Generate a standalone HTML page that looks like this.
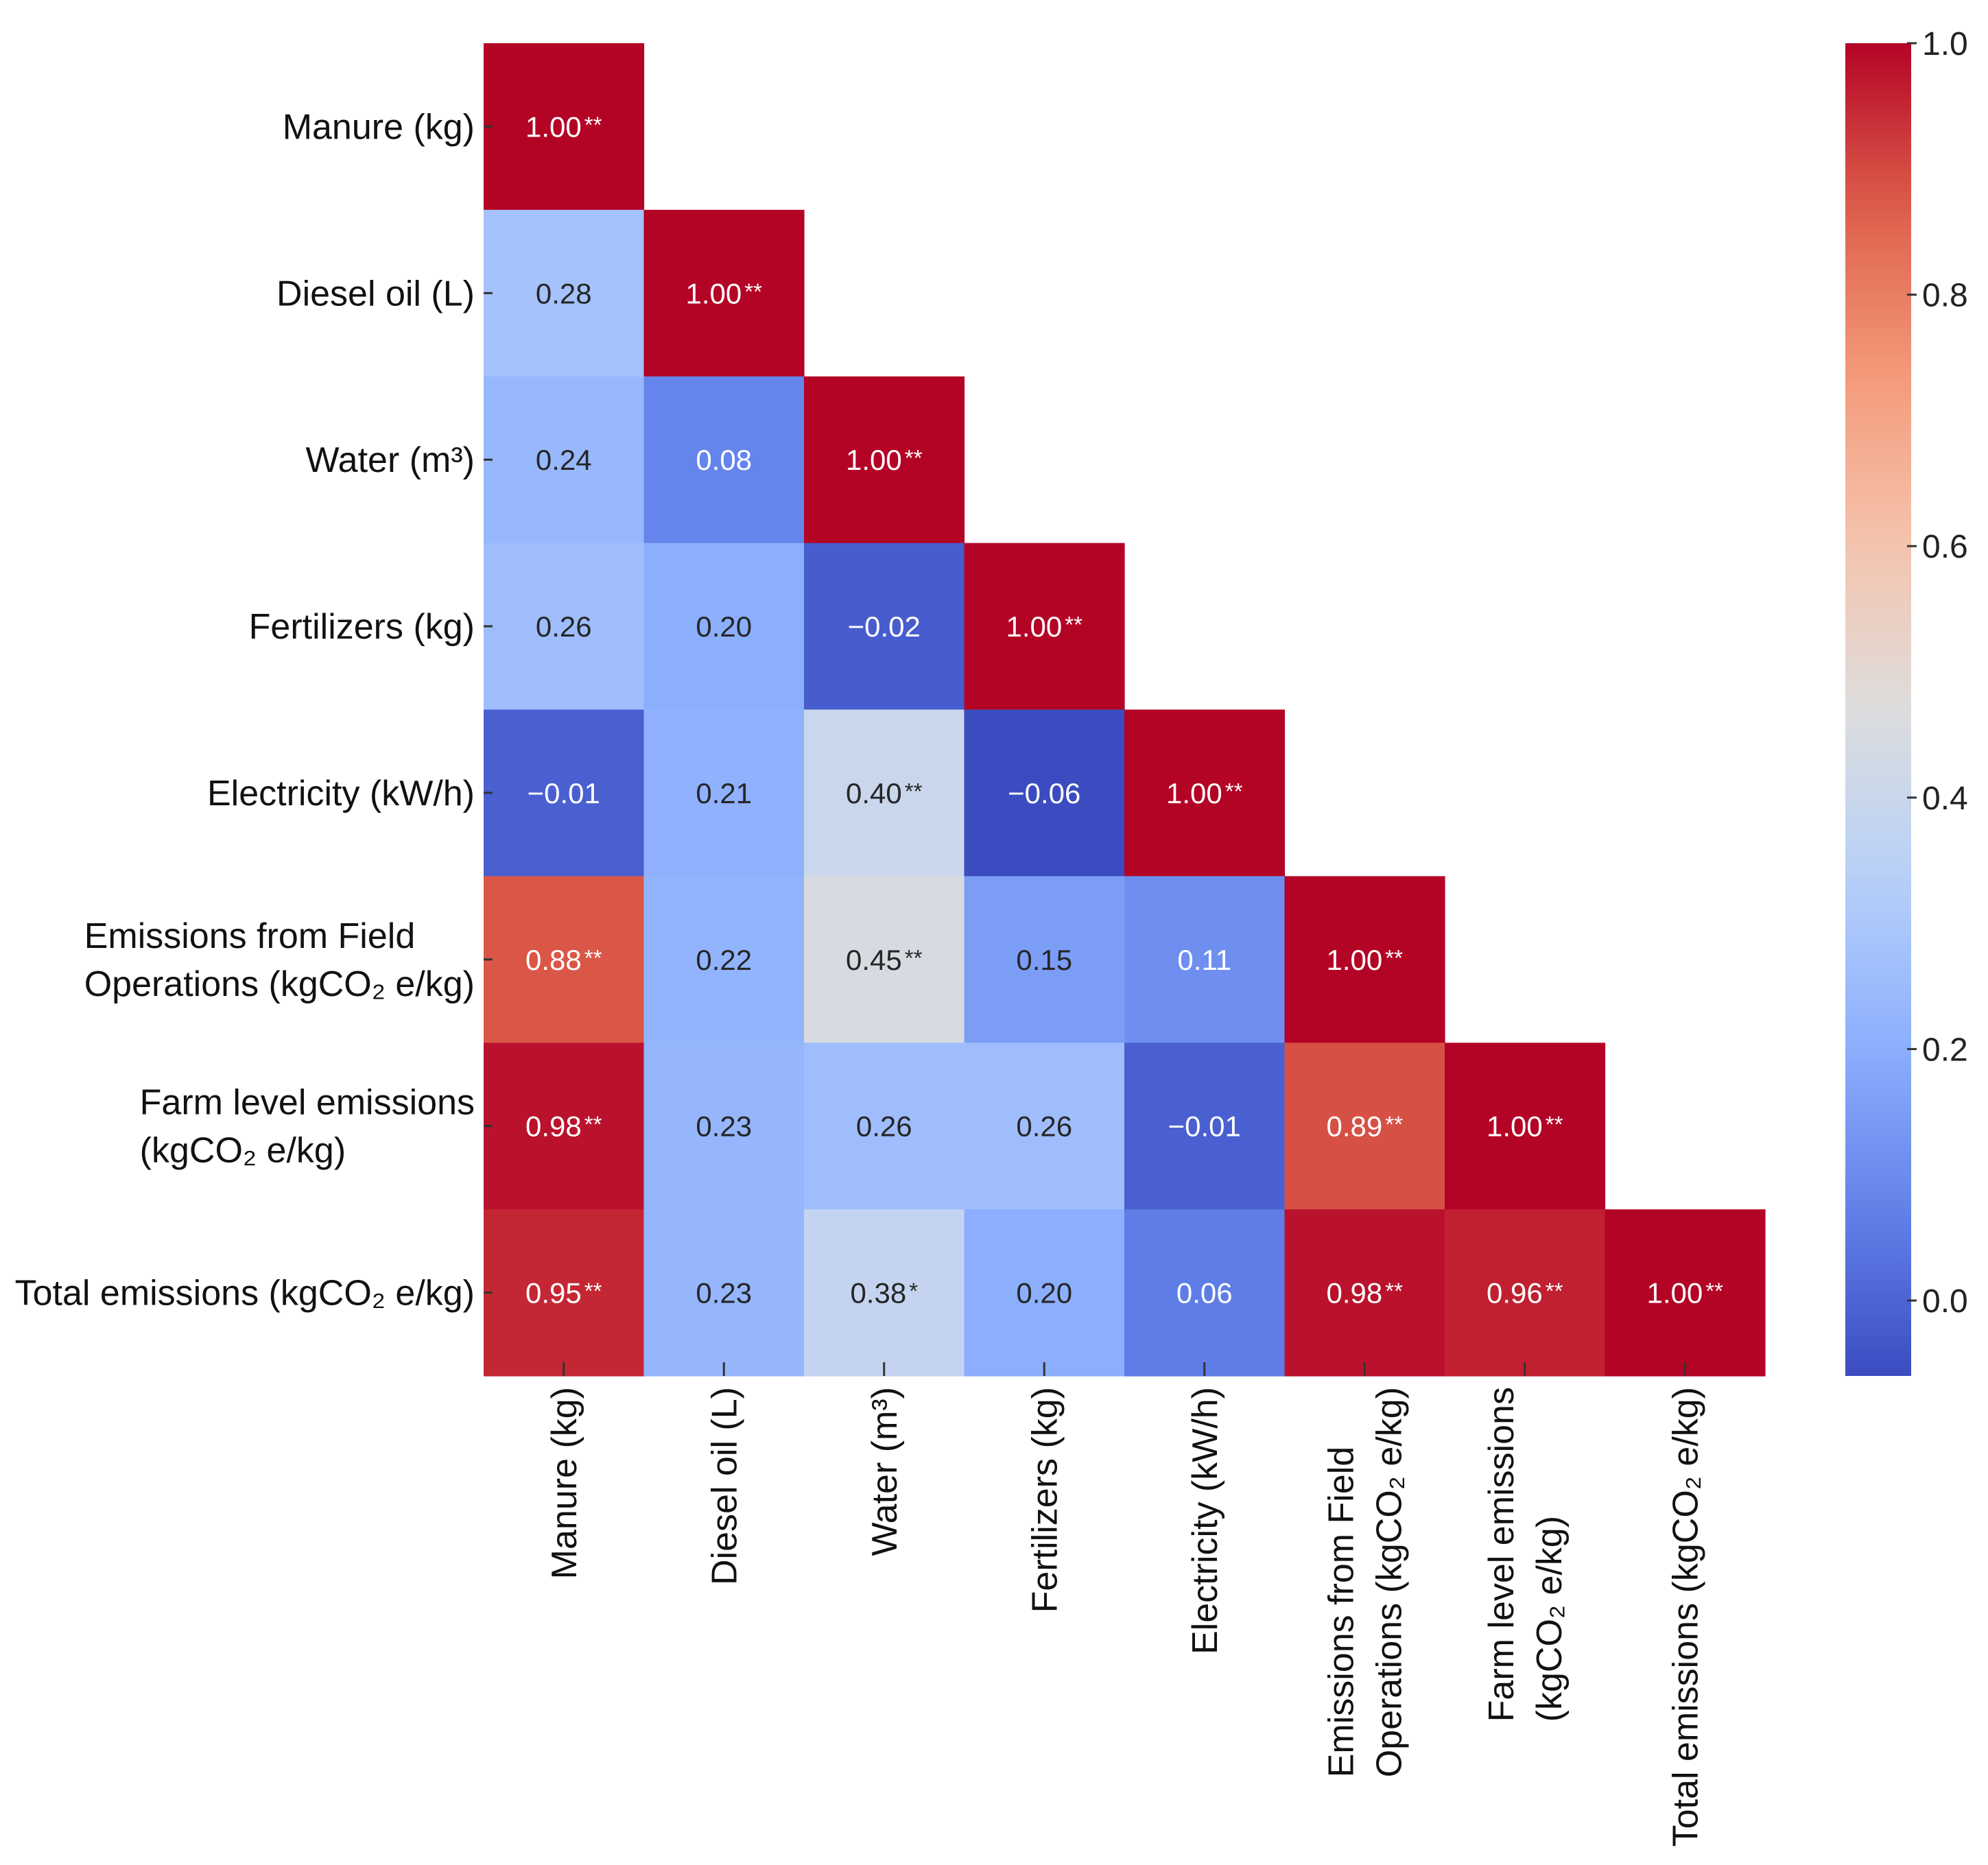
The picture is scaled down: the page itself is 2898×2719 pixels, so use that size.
<!DOCTYPE html>
<html><head><meta charset="utf-8">
<style>
html,body{margin:0;padding:0;background:#fff;}
svg{display:block;font-family:"Liberation Sans","DejaVu Sans",sans-serif;}
</style></head>
<body>
<svg id="chart" width="2898" height="2719" viewBox="0 0 2898 2719" xmlns="http://www.w3.org/2000/svg">
<defs><linearGradient id="cbgrad" x1="0" y1="1" x2="0" y2="0"></linearGradient></defs>
<g id="cells"></g>
<g id="ylabels"></g>
<g id="xlabels"></g>
<g id="colorbar"></g>
</svg>
<script>
const categories = ["Manure (kg)","Diesel oil (L)","Water (m³)","Fertilizers (kg)","Electricity (kW/h)","Emissions from Field|Operations (kgCO₂ e/kg)","Farm level emissions|(kgCO₂ e/kg)","Total emissions (kgCO₂ e/kg)"];
const values = [
 [1.00],
 [0.28,1.00],
 [0.24,0.08,1.00],
 [0.26,0.20,-0.02,1.00],
 [-0.01,0.21,0.40,-0.06,1.00],
 [0.88,0.22,0.45,0.15,0.11,1.00],
 [0.98,0.23,0.26,0.26,-0.01,0.89,1.00],
 [0.95,0.23,0.38,0.20,0.06,0.98,0.96,1.00]
];
const significance = [
 ["**"],
 ["","**"],
 ["","","**"],
 ["","","","**"],
 ["","","**","","**"],
 ["**","","**","","","**"],
 ["**","","","","","**","**"],
 ["**","","*","","","**","**","**"]
];
const colorbarTicks = [0.0,0.2,0.4,0.6,0.8,1.0];
const vmin = -0.06, vmax = 1.0;

const NS="http://www.w3.org/2000/svg";
const L=705, T=63, R=2573, B=2006;
const n=categories.length, cw=(R-L)/n, ch=(B-T)/n;
const xs=i=>L+i*cw, ys=i=>T+i*ch;
const CB_X=2690, CB_W=96;
const cbY=v=>B-(v-vmin)/(vmax-vmin)*(B-T);

const cmap=[[0,59,76,192],[0.125,98,130,234],[0.25,141,176,254],[0.375,184,208,249],[0.5,221,221,221],[0.625,245,196,173],[0.75,244,154,123],[0.875,222,96,76],[1,180,4,38]];
function color(v){let t=(v-vmin)/(vmax-vmin);t=Math.max(0,Math.min(1,t));
 for(let k=1;k<cmap.length;k++){if(t<=cmap[k][0]){const a=cmap[k-1],b=cmap[k],f=(t-a[0])/(b[0]-a[0]);
 return [1,2,3].map(j=>Math.round(a[j]+(b[j]-a[j])*f));}}return cmap[cmap.length-1].slice(1);}
function mk(tag,attrs,parent){const e=document.createElementNS(NS,tag);for(const k in attrs)e.setAttribute(k,attrs[k]);parent.appendChild(e);return e;}
function fmt(v){const s=Math.abs(v).toFixed(2);return v<0?"−"+s:s;}

const cells=document.getElementById('cells');
values.forEach((row,i)=>row.forEach((v,j)=>{
 const c=color(v);
 const r=mk('rect',{x:xs(j),y:ys(i),width:cw+0.6,height:ch+0.6,fill:`rgb(${c})`},cells);
 
 
 const lum=0.299*c[0]+0.587*c[1]+0.114*c[2];
 const t=mk('text',{x:xs(j)+cw/2,y:ys(i)+ch/2+15,'text-anchor':'middle','font-size':42,fill:lum<150?'#ffffff':'#262626'},cells);
 
 
 t.textContent=fmt(v);
 const s=significance[i][j];
 if(s){const sp=mk('tspan',{'font-size':33,dx:4,dy:-6},t);sp.textContent=s;}
}));
for(let i=0;i<n;i++){
 const yt=mk('line',{x1:L,x2:L+13,y1:ys(i)+ch/2,y2:ys(i)+ch/2,stroke:'#333',"stroke-width":3},cells);
 
 
 const xt=mk('line',{x1:xs(i)+cw/2,x2:xs(i)+cw/2,y1:B-20,y2:B,stroke:'#333',"stroke-width":3},cells);
 
 
}
const yl=document.getElementById('ylabels');
categories.forEach((c,i)=>{
 const lines=c.split('|');const cy=ys(i)+ch/2;
 const g=mk('g',{},yl);
 
 
 const ts=lines.map((ln,k)=>{const t=mk('text',{x:0,y:cy+18+(k-(lines.length-1)/2)*70,'font-size':52,fill:'#111'},g);t.textContent=ln;return t;});
 const w=Math.max(...ts.map(t=>t.getComputedTextLength()));
 ts.forEach(t=>t.setAttribute('x',692-w));
});
const xl=document.getElementById('xlabels');
categories.forEach((c,i)=>{
 const lines=c.split('|');const cx=xs(i)+cw/2;
 const g=mk('g',{},xl);
 
 
 const ts=lines.map((ln,k)=>{const t=mk('text',{'font-size':52,fill:'#111'},g);t.textContent=ln;return t;});
 const w=Math.max(...ts.map(t=>t.getComputedTextLength()));
 const by=2022+w;
 ts.forEach((t,k)=>{const x=cx+18+(k-(lines.length-1)/2)*70;
  t.setAttribute('transform',`translate(${x},${by}) rotate(-90)`);});
});
const grad=document.getElementById('cbgrad');
for(let k=0;k<=20;k++){const v=vmin+(vmax-vmin)*k/20;mk('stop',{offset:(k/20),'stop-color':`rgb(${color(v)})`},grad);}
const cb=document.getElementById('colorbar');
const bar=mk('rect',{x:CB_X,y:T,width:CB_W,height:B-T,fill:'url(#cbgrad)'},cb);


colorbarTicks.forEach(v=>{
 const y=cbY(v);
 const tl=mk('line',{x1:CB_X+CB_W-6,x2:CB_X+CB_W+8,y1:y,y2:y,stroke:'#333','stroke-width':3},cb);
 
 
 const t=mk('text',{x:CB_X+CB_W+16,y:y+17,'font-size':48,fill:'#222'},cb);
 
 
 t.textContent=v.toFixed(1);
});
</script>
</body></html>
